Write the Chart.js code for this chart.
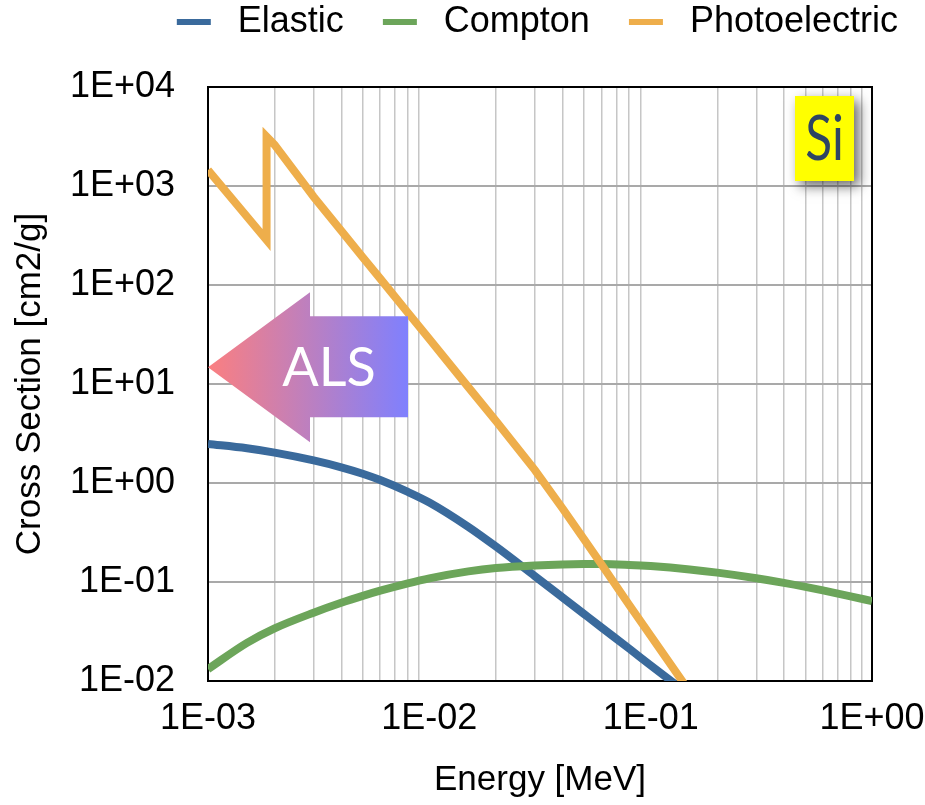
<!DOCTYPE html>
<html>
<head>
<meta charset="utf-8">
<script src="https://cdn.jsdelivr.net/npm/chart.js@4.4.1/dist/chart.umd.min.js"></script>
<style>
  html, body { margin: 0; padding: 0; background: #fff; }
</style>
</head>
<body>
<canvas id="xsChart" width="925" height="805"></canvas>
<script>
// Si cross sections. Energy in MeV, cross section in cm2/g
const elasticEnergy = [0.001, 0.0015, 0.002, 0.003, 0.004, 0.005, 0.006, 0.008, 0.01, 0.015, 0.02, 0.03, 0.04, 0.05, 0.06, 0.08, 0.1, 0.15];
const elasticXs     = [2.48, 2.24, 2.025, 1.69, 1.44, 1.24, 1.07, 0.813, 0.636, 0.361, 0.228, 0.1144, 0.0698, 0.0475, 0.0347, 0.0212, 0.0144, 0.0072];

const comptonEnergy = [0.001, 0.0015, 0.002, 0.003, 0.004, 0.005, 0.006, 0.008, 0.01, 0.015, 0.02, 0.03, 0.04, 0.05, 0.06, 0.08, 0.1, 0.15, 0.2, 0.3, 0.4, 0.5, 0.6, 0.8, 1.0];
const comptonXs     = [0.0132, 0.0243, 0.034, 0.049, 0.0617, 0.0724, 0.0817, 0.097, 0.109, 0.128, 0.1385, 0.147, 0.1506, 0.1516, 0.1516, 0.1486, 0.1447, 0.134, 0.1243, 0.1092, 0.0981, 0.0894, 0.0823, 0.0717, 0.0641];

// K edge at 1.839 keV gives the jump
const photoEnergy = [0.001, 0.001839, 0.001839, 0.002, 0.003, 0.004, 0.005, 0.006, 0.008, 0.01, 0.015, 0.02, 0.03, 0.04, 0.05, 0.06, 0.08, 0.1, 0.15];
const photoXs     = [1450, 285, 3150, 2600, 780, 353, 191, 116, 52.5, 28.5, 9.3, 4.22, 1.35, 0.553, 0.27, 0.15, 0.0586, 0.0286, 0.0078];

const seriesNames  = ['Elastic', 'Compton', 'Photoelectric'];
const seriesColors = ['#3a6a9c', '#6ca55a', '#eeae4b'];

const xTickValues = [0.001, 0.01, 0.1, 1];
const xTickLabels = ['1E-03', '1E-02', '1E-01', '1E+00'];
const yTickValues = [0.01, 0.1, 1, 10, 100, 1000, 10000];
const yTickLabels = ['1E-02', '1E-01', '1E+00', '1E+01', '1E+02', '1E+03', '1E+04'];

// annotation anchors (data coords)
const alsTip = { x: 0.001, y: 14.8 };
const alsText = 'ALS';
const elementText = 'Si';

Chart.defaults.font.family = "'Liberation Sans', Arial, sans-serif";
Chart.defaults.color = '#000';

function toPoints(xs, ys) {
  return xs.map((x, i) => ({ x: x, y: ys[i] }));
}

// legend swatch: gap, short thick line, gap before the text
function swatch(color) {
  const c = document.createElement('canvas');
  c.width = 55;
  c.height = 6;
  const g = c.getContext('2d');
  g.fillStyle = color;
  g.fillRect(12, 0, 34, 6);
  return c;
}

function isDecade(v) {
  const l = Math.log10(v);
  return Math.abs(l - Math.round(l)) < 1e-6;
}

function labelFor(values, labels, v) {
  const i = values.findIndex(t => Math.abs(Math.log10(t) - Math.log10(v)) < 1e-6);
  return i >= 0 ? labels[i] : '';
}

// minor ticks on x so the 2..9 grid lines show
const xGridValues = [];
for (let d = 0; d < xTickValues.length; d++) {
  xGridValues.push(xTickValues[d]);
  if (d < xTickValues.length - 1) {
    for (let k = 2; k <= 9; k++) xGridValues.push(k * xTickValues[d]);
  }
}

const frame = {
  id: 'frame',
  beforeDatasetsDraw(chart) {
    const { ctx, chartArea: a } = chart;
    ctx.save();
    ctx.strokeStyle = '#000';
    ctx.lineWidth = 2;
    ctx.strokeRect(a.left, a.top, a.right - a.left, a.bottom - a.top);
    ctx.restore();
  }
};

const overlays = {
  id: 'overlays',
  afterDatasetsDraw(chart) {
    const { ctx, chartArea: a } = chart;
    const xs = chart.scales.x, ys = chart.scales.y;

    // ALS arrow pointing to low energies
    const tx = xs.getPixelForValue(alsTip.x);
    const ty = ys.getPixelForValue(alsTip.y);
    ctx.save();
    const grad = ctx.createLinearGradient(tx, 0, tx + 200, 0);
    grad.addColorStop(0, '#fb7f80');
    grad.addColorStop(1, '#7f80fe');
    ctx.fillStyle = grad;
    ctx.beginPath();
    ctx.moveTo(tx, ty);
    ctx.lineTo(tx + 102, ty - 75);
    ctx.lineTo(tx + 102, ty - 51);
    ctx.lineTo(tx + 200, ty - 51);
    ctx.lineTo(tx + 200, ty + 50);
    ctx.lineTo(tx + 102, ty + 50);
    ctx.lineTo(tx + 102, ty + 75);
    ctx.closePath();
    ctx.fill();
    ctx.fillStyle = '#fff';
    ctx.font = '54px Lato';
    ctx.textAlign = 'center';
    ctx.textBaseline = 'alphabetic';
    ctx.fillText(alsText, tx + 121, ty + 19);
    ctx.restore();

    // element tag, top right
    const bx = a.right - 77, by = a.top + 9, bw = 59, bh = 85;
    ctx.save();
    ctx.shadowColor = 'rgba(0,0,0,0.6)';
    ctx.shadowBlur = 12;
    ctx.shadowOffsetX = 5;
    ctx.shadowOffsetY = 5;
    ctx.fillStyle = '#ffff00';
    ctx.fillRect(bx, by, bw, bh);
    ctx.restore();
    ctx.save();
    ctx.fillStyle = '#2e4563';
    ctx.font = '62px Lato';
    ctx.textAlign = 'center';
    ctx.textBaseline = 'alphabetic';
    ctx.translate(bx + bw / 2, by + 64);
    ctx.scale(0.8, 1);
    ctx.fillText(elementText, 0, 0);
    ctx.restore();
  }
};

const xData = [toPoints(elasticEnergy, elasticXs), toPoints(comptonEnergy, comptonXs), toPoints(photoEnergy, photoXs)];

const ctx = document.getElementById('xsChart').getContext('2d');
new Chart(ctx, {
  type: 'line',
  data: {
    datasets: seriesNames.map((name, i) => ({
      label: name,
      data: xData[i],
      borderColor: seriesColors[i],
      backgroundColor: seriesColors[i],
      borderWidth: 8,
      pointRadius: 0,
      pointHoverRadius: 0,
      pointStyle: swatch(seriesColors[i]),
      fill: false,
      tension: 0,
      cubicInterpolationMode: i < 2 ? 'monotone' : 'default',
      borderJoinStyle: 'miter',
      order: 3 - i
    }))
  },
  options: {
    responsive: false,
    animation: false,
    events: [],
    layout: { padding: { top: -23, right: 0, bottom: 0, left: 0 } },
    plugins: {
      legend: {
        position: 'top',
        align: 'end',
        labels: {
          usePointStyle: true,
          pointStyleWidth: 55,
          boxHeight: 6,
          padding: 27,
          color: '#000',
          font: { size: 36 },
          sort: (a, b) => a.datasetIndex - b.datasetIndex
        }
      },
      // blank spacer between legend and plot
      title: {
        display: true,
        text: '',
        weight: 500,
        font: { size: 12 },
        padding: { top: 0, bottom: 22.6 }
      },
      tooltip: { enabled: false }
    },
    scales: {
      x: {
        type: 'logarithmic',
        min: 0.001,
        max: 1,
        afterBuildTicks: (scale) => { scale.ticks = xGridValues.map(v => ({ value: v })); },
        afterFit: (scale) => { scale.height = 124; scale.paddingLeft = 0; scale.paddingRight = 0; },
        ticks: {
          autoSkip: false,
          maxRotation: 0,
          padding: 16,
          font: { size: 36 },
          color: '#000',
          callback: (value) => labelFor(xTickValues, xTickLabels, value)
        },
        grid: {
          drawTicks: false,
          color: (c) => (c.tick && isDecade(c.tick.value)) ? 'rgba(0,0,0,0)' : '#c6c6c6',
          lineWidth: 1.5
        },
        border: { display: true, color: '#000', width: 2 },
        title: {
          display: true,
          text: 'Energy [MeV]',
          font: { size: 35 },
          color: '#000',
          padding: { top: 0, bottom: 4 }
        }
      },
      y: {
        type: 'logarithmic',
        min: 0.01,
        max: 10000,
        afterBuildTicks: (scale) => { scale.ticks = yTickValues.map(v => ({ value: v })); },
        afterFit: (scale) => { scale.width = 208; },
        ticks: {
          padding: 33,
          font: { size: 36 },
          color: '#000',
          callback: (value) => labelFor(yTickValues, yTickLabels, value)
        },
        grid: {
          drawTicks: false,
          color: '#a9a9a9',
          lineWidth: 2
        },
        border: { display: true, color: '#000', width: 2 },
        title: {
          display: true,
          text: 'Cross Section [cm2/g]',
          font: { size: 35 },
          color: '#000',
          padding: { top: 9, bottom: 0 }
        }
      },
      // empty strip on the right so the last x label fits
      yRight: {
        type: 'linear',
        position: 'right',
        display: true,
        grid: { display: false, drawTicks: false },
        ticks: { display: false },
        border: { display: false },
        afterFit: (scale) => { scale.width = 53; }
      }
    }
  },
  plugins: [frame, overlays]
});
</script>
</body>
</html>
